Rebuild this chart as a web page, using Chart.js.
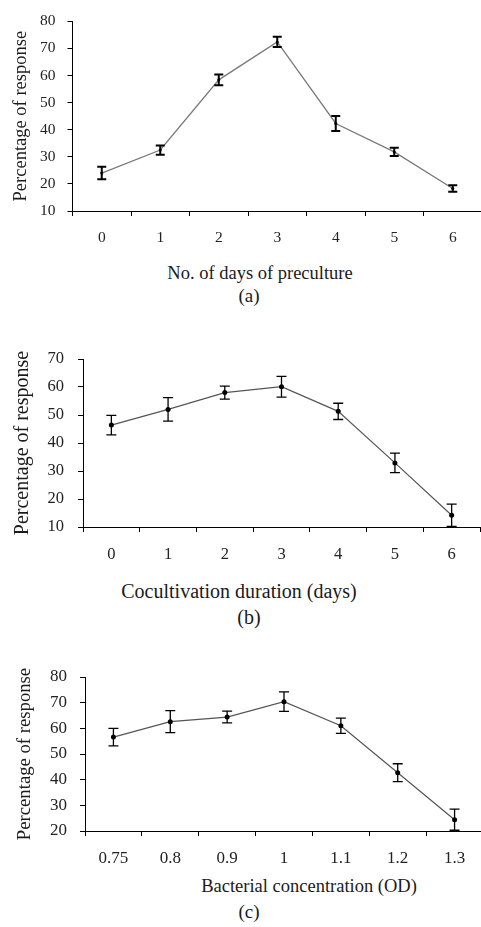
<!DOCTYPE html>
<html>
<head>
<meta charset="utf-8">
<script src="https://cdn.jsdelivr.net/npm/chart.js@4.4.0/dist/chart.umd.min.js"></script>
<style>
  html, body { margin: 0; padding: 0; background: #fff; overflow: hidden; }
  body { width: 481px; height: 927px; position: relative; }
  .panel { position: absolute; left: 0; }
  .txt { position: absolute; transform: translate(-50%, -50%); white-space: nowrap;
         font-family: "Liberation Serif", "Times New Roman", serif; color: #1a1a1a; line-height: 1; }
</style>
</head>
<body>
<div class="panel" id="pa" style="top:0px;width:486px;height:251px"><canvas id="chartA"></canvas></div>
<div class="panel" id="pb" style="top:330px;width:484px;height:237px"><canvas id="chartB"></canvas></div>
<div class="panel" id="pc" style="top:650px;width:487px;height:221px"><canvas id="chartC"></canvas></div>

<div class="txt" style="left:260px;top:273px;font-size:18.5px">No. of days of preculture</div>
<div class="txt" style="left:249px;top:295px;font-size:19px">(a)</div>
<div class="txt" style="left:239px;top:591px;font-size:20px">Cocultivation duration (days)</div>
<div class="txt" style="left:249px;top:617px;font-size:20px">(b)</div>
<div class="txt" style="left:309px;top:886px;font-size:18.5px">Bacterial concentration (OD)</div>
<div class="txt" style="left:249px;top:911px;font-size:19px">(c)</div>

<script>
// (a) days of preculture
var days_a = ['0', '1', '2', '3', '4', '5', '6']
var resp_a = [24, 32.5, 58.4, 72.4, 42.3, 31.8, 18.3]
var err_a = [2.3, 1.7, 2.0, 1.9, 2.8, 1.5, 1.2]
var ticks_a = [10, 20, 30, 40, 50, 60, 70, 80]

// (b) cocultivation duration
var days_b = ['0', '1', '2', '3', '4', '5', '6']
var resp_b = [46.4, 52.0, 58.0, 60.1, 51.3, 32.9, 14.2]
var err_b = [3.5, 4.2, 2.3, 3.7, 2.9, 3.5, 4.0]
var ticks_b = [10, 20, 30, 40, 50, 60, 70]

// (c) bacterial concentration
var od_c = ['0.75', '0.8', '0.9', '1', '1.1', '1.2', '1.3']
var resp_c = [56.6, 62.6, 64.4, 70.4, 61.0, 42.7, 24.4]
var err_c = [3.4, 4.3, 2.3, 3.8, 3.0, 3.5, 4.1]
var ticks_c = [20, 30, 40, 50, 60, 70, 80]

var serif = '"Liberation Serif", "Times New Roman", serif'

// draws the error bars from the y scale
var errorBars = {
  id: 'errorBars',
  afterDatasetsDraw: function (chart, args, opts) {
    var ctx = chart.ctx
    var meta = chart.getDatasetMeta(0)
    var yScale = chart.scales.y
    var vals = chart.data.datasets[0].data
    ctx.save()
    ctx.strokeStyle = opts.color
    ctx.lineWidth = opts.width
    for (let i = 0; i < meta.data.length; i++) {
      var x = meta.data[i].x
      var top = yScale.getPixelForValue(vals[i] + opts.errors[i])
      var bot = yScale.getPixelForValue(vals[i] - opts.errors[i])
      ctx.beginPath()
      ctx.moveTo(x, top); ctx.lineTo(x, bot)
      ctx.moveTo(x - opts.cap, top); ctx.lineTo(x + opts.cap, top)
      ctx.moveTo(x - opts.cap, bot); ctx.lineTo(x + opts.cap, bot)
      ctx.stroke()
    }
    ctx.restore()
  }
}

function make_chart(id, labels, values, errors, yticks, cfg) {
  var ctx = document.getElementById(id)
  return new Chart(ctx, {
    type: 'line',
    data: {
      labels: labels,
      datasets: [{
        data: values,
        borderColor: cfg.lineColor,
        borderWidth: cfg.lineWidth,
        pointRadius: cfg.pointRadius,
        pointBackgroundColor: '#000',
        pointBorderWidth: 0,
        tension: 0
      }]
    },
    options: {
      responsive: true,
      maintainAspectRatio: false,
      animation: false,
      events: [],
      layout: { padding: { top: cfg.padTop, right: cfg.padRight, left: 0, bottom: 0 } },
      plugins: {
        legend: { display: false },
        tooltip: { enabled: false },
        errorBars: { errors: errors, color: '#000', width: cfg.errWidth, cap: cfg.cap }
      },
      scales: {
        x: {
          offset: true,
          grid: { offset: true, drawOnChartArea: false, color: '#000', tickLength: 5 },
          border: { color: '#000', width: 1 },
          ticks: { color: '#222', padding: cfg.xPad, font: { family: serif, size: cfg.tickSize } },
          afterFit: function (s) { s.height = 40 }
        },
        y: {
          min: yticks[0],
          max: yticks[yticks.length - 1],
          afterBuildTicks: function (s) { s.ticks = yticks.map(function (v) { return { value: v } }) },
          grid: { drawOnChartArea: false, color: '#000', tickLength: 5 },
          border: { color: '#000', width: 1 },
          ticks: { color: '#222', padding: cfg.yPad, font: { family: serif, size: cfg.tickSize } },
          title: {
            display: true,
            text: 'Percentage of response',
            color: '#1a1a1a',
            font: { family: serif, size: cfg.titleSize },
            padding: { top: cfg.titlePad, bottom: 0 }
          },
          afterFit: function (s) { s.width = cfg.yWidth }
        }
      }
    },
    plugins: [errorBars]
  })
}

make_chart('chartA', days_a, resp_a, err_a, ticks_a, {
  lineColor: '#7a7a7a', lineWidth: 1.3, pointRadius: 1.5, errWidth: 2, cap: 4.5,
  padTop: 12, padRight: 1, xPad: 13, yPad: 12, tickSize: 15.5, titleSize: 18.5, titlePad: 10, yWidth: 72.5
})
make_chart('chartB', days_b, resp_b, err_b, ticks_b, {
  lineColor: '#555', lineWidth: 1.2, pointRadius: 2.5, errWidth: 1.3, cap: 5,
  padTop: 29, padRight: 0, xPad: 13, yPad: 14, tickSize: 16.5, titleSize: 20, titlePad: 10.5, yWidth: 83
})
make_chart('chartC', od_c, resp_c, err_c, ticks_c, {
  lineColor: '#555', lineWidth: 1.2, pointRadius: 2.5, errWidth: 1.3, cap: 5,
  padTop: 27, padRight: 0, xPad: 12, yPad: 13, tickSize: 17, titleSize: 18.7, titlePad: 13.5, yWidth: 85
})
</script>
</body>
</html>
